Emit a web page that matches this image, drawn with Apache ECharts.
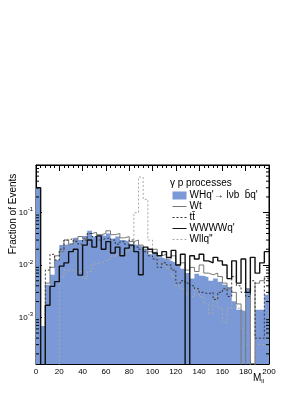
<!DOCTYPE html>
<html><head><meta charset="utf-8">
<script src="https://cdn.jsdelivr.net/npm/echarts@6/dist/echarts.min.js"></script>
<style>html,body{margin:0;padding:0;background:#fff}#c{width:306px;height:396px}</style>
</head><body><div id="c"></div>
<script>
// bin lower edges (bin width 4)
const binStarts = [0,4,8,12,16,20,24,28,32,36,40,44,48,52,56,60,64,68,72,76,80,84,88,92,96,
  100,104,108,112,116,120,124,128,132,136,140,144,148,152,156,160,164,168,172,176,180,184,188,192,196];
const binEnd = 200;
const xTicks = [0,20,40,60,80,100,120,140,160,180,200];

const seriesNames = ["WHq'\u2192 l\u03bdb  b\u0304q'", "Wt", "tt\u0304", "WWWWq'", "Wllq''"];

const whq = [0.30,0.00068,0.0042,0.0065,0.0125,0.024,0.025,0.027,0.033,0.030,0.036,0.045,0.035,0.038,0.036,0.040,0.032,0.035,0.030,0.028,
  0.025,0.024,0.022,0.020,0.016,0.018,0.014,0.013,0.012,0.011,0.010,0.0085,0.0070,0.0055,0.0068,0.0062,0.0058,0.0050,0.0055,0.0048,
  0.0042,0.0038,0.0020,0.0014,0.0013,0.0035,0,0.0014,0.0014,0.0027];
const wt = [0,0,0.0045,0.0090,0.015,0.018,0.030,0.025,0.030,0.035,0.032,0.040,0.042,0.038,0.040,0.045,0.038,0.040,0.033,0.035,
  0.028,0.030,0.024,0.020,0.018,0.020,0.015,0.016,0.013,0.015,0.010,0.011,0.008,0.009,0.0075,0.010,0.007,0.0065,0.007,0.006,
  0.0045,0.0035,0.003,0.0018,0,0.0035,0,0.0045,0.005,0.006];
const ttbar = [0,0,0.008,0.016,0.0125,0.020,0.030,0.032,0.028,0.025,0.030,0.040,0.035,0.030,0.032,0.033,0.030,0.025,0.028,0.025,
  0.030,0.022,0.020,0.018,0.015,0.013,0.009,0.011,0.010,0.008,0.0045,0.005,0.0045,0.004,0.0035,0.003,0.0028,0.003,0.0022,0.003,
  0.0035,0.0025,0.006,0.004,0.003,0.0025,0.005,0.0004,0.0004,0.0055];
const wwww = [0.30,0,0.0017,0.0039,0.0048,0.0095,0.011,0.018,0.020,0.0064,0.024,0.030,0.022,0.036,0.020,0.028,0.017,0.022,0.015,0.021,
  0.024,0.018,0.0065,0.022,0.020,0.017,0.015,0.018,0.014,0.019,0.010,0.016,0,0.015,0.013,0.016,0.012,0.011,0.014,0.012,
  0.010,0.0055,0.012,0.0045,0.013,0.0030,0.014,0.0070,0.011,0.018];
const wllq = [0,0,0,0,0,0.006,0.008,0.008,0.0075,0.0075,0.0055,0.0075,0.0105,0.011,0.012,0.013,0.0145,0.016,0.016,0.018,
  0.020,0.10,0.48,0.18,0.030,0.015,0.011,0.010,0.0085,0.006,0.004,0.0035,0.0028,0.0025,0.0035,0.0025,0.0018,0.0012,0.0025,0.0015,
  0.0008,0.0015,0.002,0.0015,0.0006,0.0003,0,0.0003,0.0003,0.0003];

const yMin = 1.28e-4, yMax = 0.816;
const FLOOR = 1e-6; // empty bins drop below the frame

function steps(vals) {
  const pts = vals.map((v, i) => [binStarts[i], v > 0 ? v : FLOOR]);
  pts.push([binEnd, vals[vals.length - 1] > 0 ? vals[vals.length - 1] : FLOOR]);
  return pts;
}

// minor log ticks (axis decoration)
const minorVals = [];
for (let e = -4; e <= 0; e++) for (let m = 2; m <= 9; m++) {
  const v = m * Math.pow(10, e);
  if (v > yMin && v < yMax) minorVals.push([0, v]);
}

const FONT = 'Liberation Sans, DejaVu Sans, Arial, sans-serif';
const chart = echarts.init(document.getElementById('c'), null, {renderer: 'canvas'});

function lineSeries(name, vals, color, width, type, z) {
  return {
    name, type: 'line', step: 'end', data: steps(vals), symbol: 'none', clip: true,
    lineStyle: {color, width, type}, itemStyle: {color}, z, animation: false
  };
}

chart.setOption({
  animation: false,
  grid: {left: 36, right: 37, top: 165, bottom: 32, show: true, borderColor: '#000', borderWidth: 1, backgroundColor: 'transparent'},
  xAxis: [{
    type: 'value', min: 0, max: 200, interval: 20, position: 'bottom',
    axisLine: {show: true, onZero: false, lineStyle: {color: '#000'}},
    axisTick: {show: true, inside: true, length: 6, lineStyle: {color: '#000'}},
    minorTick: {show: true, splitNumber: 5, length: 3, lineStyle: {color: '#000'}},
    splitLine: {show: false},
    axisLabel: {fontFamily: FONT, fontSize: 8, color: '#000', margin: 4, formatter: v => xTicks.includes(v) ? String(v) : ''}
  }, {
    type: 'value', min: 0, max: 200, interval: 20, position: 'top',
    axisLine: {show: true, onZero: false, lineStyle: {color: '#000'}},
    axisTick: {show: true, inside: true, length: 6, lineStyle: {color: '#000'}},
    minorTick: {show: true, splitNumber: 5, length: 3, lineStyle: {color: '#000'}},
    splitLine: {show: false}, axisLabel: {show: false}
  }],
  yAxis: [{
    type: 'log', logBase: 10, min: yMin, max: yMax, splitNumber: 3, position: 'left',
    axisLine: {show: true, onZero: false, lineStyle: {color: '#000'}},
    axisTick: {show: true, inside: true, length: 6, lineStyle: {color: '#000'}},
    splitLine: {show: false},
    axisLabel: {
      showMinLabel: false, showMaxLabel: false, margin: 3,
      formatter: v => {
        const e = Math.log10(v);
        if (Math.abs(e - Math.round(e)) > 1e-6) return '';
        return '{b|10}{s|' + Math.round(e) + '}';
      },
      rich: {
        b: {fontFamily: FONT, fontSize: 8, color: '#000'},
        s: {fontFamily: FONT, fontSize: 6, color: '#000', padding: [0, 0, 6, 0]}
      }
    }
  }, {
    type: 'log', logBase: 10, min: yMin, max: yMax, splitNumber: 3, position: 'right',
    axisLine: {show: true, onZero: false, lineStyle: {color: '#000'}},
    axisTick: {show: true, inside: true, length: 6, lineStyle: {color: '#000'}},
    splitLine: {show: false}, axisLabel: {show: false}
  }],
  legend: {
    orient: 'vertical', left: 172, top: 190, padding: 0, itemWidth: 14, itemHeight: 8, itemGap: 0,
    textStyle: {fontFamily: FONT, fontSize: 10, color: '#000', lineHeight: 11, padding: [0, 0, 0, -2]},
    itemStyle: {opacity: 0},
    lineStyle: {width: 1},
    data: [{name: seriesNames[0], icon: 'rect', itemStyle: {opacity: 1}}, seriesNames[1], seriesNames[2], seriesNames[3], seriesNames[4]],
    selectedMode: false
  },
  graphic: [
    {type: 'text', left: 170, top: 178, style: {text: '\u03b3 p processes', font: '10px ' + FONT, fill: '#000'}},
    {type: 'text', x: 13, y: 214, rotation: Math.PI / 2,
      style: {text: 'Fraction of Events', font: '10px ' + FONT, fill: '#000', align: 'center', verticalAlign: 'middle'}},
    {type: 'text', left: 253, top: 373, style: {
      text: '{m|M}{s|ll}', rich: {m: {font: '10px ' + FONT, fill: '#000'}, s: {font: '6px ' + FONT, fill: '#000', padding: [6, 0, 0, 0]}}}}
  ],
  series: [
    {
      name: seriesNames[0], type: 'line', step: 'end', data: steps(whq), symbol: 'none', clip: true,
      lineStyle: {width: 0, color: '#7a99d6'}, itemStyle: {color: '#7a99d6'},
      areaStyle: {color: '#7a99d6', opacity: 1, origin: 'start'}, z: 1
    },
    lineSeries(seriesNames[1], wt, '#777777', 1, 'solid', 3),
    lineSeries(seriesNames[2], ttbar, '#333333', 1, [2, 2], 3),
    lineSeries(seriesNames[3], wwww, '#111111', 1.4, 'solid', 4),
    lineSeries(seriesNames[4], wllq, '#aaaaaa', 1, [2, 2], 2),
    {
      type: 'custom', silent: true, clip: false, z: 5, data: minorVals,
      encode: {x: 0, y: 1},
      renderItem: (params, api) => {
        const v = api.value(1);
        const pl = api.coord([0, v]);
        const pr = api.coord([200, v]);
        return {type: 'group', children: [
          {type: 'line', shape: {x1: pl[0], y1: pl[1], x2: pl[0] + 3, y2: pl[1]}, style: {stroke: '#000', lineWidth: 1}},
          {type: 'line', shape: {x1: pr[0], y1: pr[1], x2: pr[0] - 3, y2: pr[1]}, style: {stroke: '#000', lineWidth: 1}}
        ]};
      }
    }
  ]
});
</script></body></html>
